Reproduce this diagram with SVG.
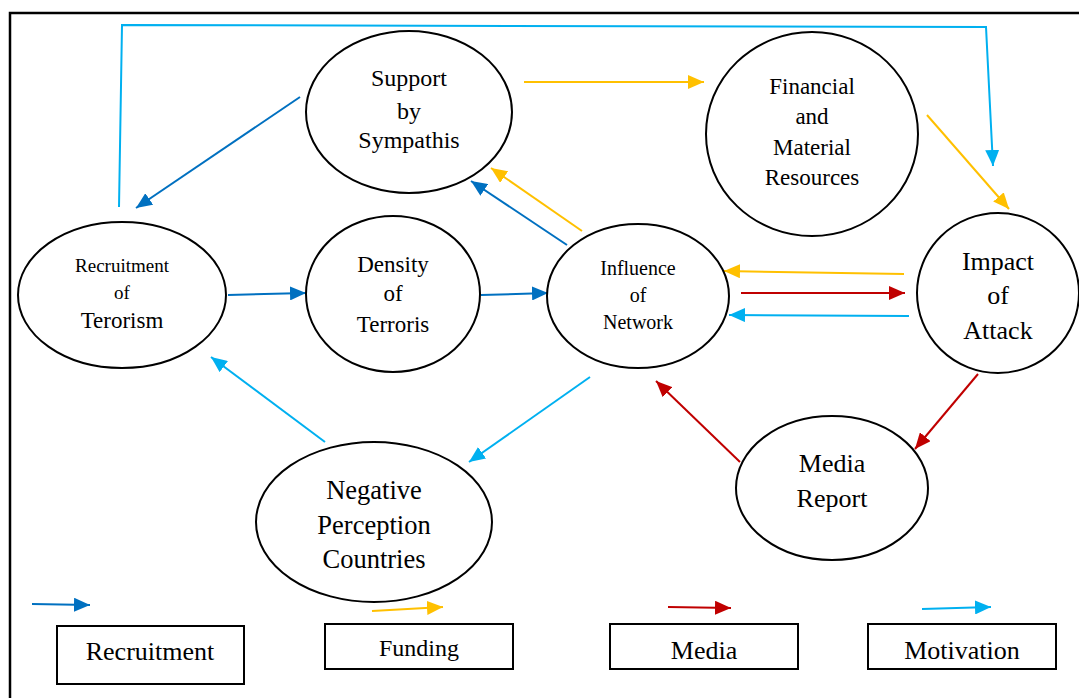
<svg xmlns="http://www.w3.org/2000/svg" width="1079" height="698" viewBox="0 0 1079 698">
<defs>
<style>
.n{fill:#fff;stroke:#000;stroke-width:2}
.t{font-family:"Liberation Serif","Times New Roman",serif;fill:#000;text-anchor:middle}
.c{fill:none;stroke-width:2}
.db{stroke:#0070C0}.ye{stroke:#FFC000}.re{stroke:#C00000}.lb{stroke:#00B0F0}
.box{fill:#fff;stroke:#000;stroke-width:2}
</style>
<marker id="adb" markerUnits="userSpaceOnUse" markerWidth="16" markerHeight="14" refX="16" refY="7" orient="auto"><path d="M0,0 L16,7 L0,14 z" fill="#0070C0"/></marker>
<marker id="aye" markerUnits="userSpaceOnUse" markerWidth="16" markerHeight="14" refX="16" refY="7" orient="auto"><path d="M0,0 L16,7 L0,14 z" fill="#FFC000"/></marker>
<marker id="are" markerUnits="userSpaceOnUse" markerWidth="16" markerHeight="14" refX="16" refY="7" orient="auto"><path d="M0,0 L16,7 L0,14 z" fill="#C00000"/></marker>
<marker id="alb" markerUnits="userSpaceOnUse" markerWidth="16" markerHeight="14" refX="16" refY="7" orient="auto"><path d="M0,0 L16,7 L0,14 z" fill="#00B0F0"/></marker>
</defs>
<rect width="1079" height="698" fill="#fff"/>
<path d="M10,698 L10,13 L1079,13" fill="none" stroke="#000" stroke-width="2.5"/>

<g id="connectors">
<path class="c lb" d="M119,207 L122,25 L986,27 L993,166" marker-end="url(#alb)"/>
<path class="c db" d="M300,97 L136,208" marker-end="url(#adb)"/>
<path class="c ye" d="M524,82 L704,82" marker-end="url(#aye)"/>
<path class="c ye" d="M927,115 L1009,209" marker-end="url(#aye)"/>
<path class="c db" d="M228,295 L306,293" marker-end="url(#adb)"/>
<path class="c db" d="M481,295 L548,293" marker-end="url(#adb)"/>
<path class="c db" d="M567,245 L471,181" marker-end="url(#adb)"/>
<path class="c ye" d="M582,231 L491,168" marker-end="url(#aye)"/>
<path class="c ye" d="M904,274 L724,271" marker-end="url(#aye)"/>
<path class="c re" d="M741,293 L905,293" marker-end="url(#are)"/>
<path class="c lb" d="M909,316 L729,315" marker-end="url(#alb)"/>
<path class="c re" d="M978,374 L915,449" marker-end="url(#are)"/>
<path class="c re" d="M740,462 L656,381" marker-end="url(#are)"/>
<path class="c lb" d="M590,377 L469,462" marker-end="url(#alb)"/>
<path class="c lb" d="M325,442 L211,357" marker-end="url(#alb)"/>
</g>

<g id="support">
<ellipse class="n" cx="409" cy="112" rx="103" ry="81"/>
<text class="t" font-size="24" x="409" y="86">Support</text>
<text class="t" font-size="24" x="409" y="119">by</text>
<text class="t" font-size="24" x="409" y="148">Sympathis</text>
</g>
<g id="financial">
<ellipse class="n" cx="812" cy="134" rx="106" ry="102"/>
<text class="t" font-size="23" x="812" y="94">Financial</text>
<text class="t" font-size="23" x="812" y="124">and</text>
<text class="t" font-size="23" x="812" y="155">Material</text>
<text class="t" font-size="23" x="812" y="185">Resources</text>
</g>
<g id="recruitment">
<ellipse class="n" cx="122" cy="295" rx="104" ry="73"/>
<text class="t" font-size="19" x="122" y="272">Recruitment</text>
<text class="t" font-size="19" x="122" y="299">of</text>
<text class="t" font-size="23" x="122" y="328">Terorism</text>
</g>
<g id="density">
<ellipse class="n" cx="393" cy="294" rx="87" ry="78"/>
<text class="t" font-size="23" x="393" y="272">Density</text>
<text class="t" font-size="23" x="393" y="301">of</text>
<text class="t" font-size="23" x="393" y="332">Terroris</text>
</g>
<g id="influence">
<ellipse class="n" cx="638" cy="296" rx="91" ry="72"/>
<text class="t" font-size="20" x="638" y="275">Influence</text>
<text class="t" font-size="20" x="638" y="302">of</text>
<text class="t" font-size="20" x="638" y="329">Network</text>
</g>
<g id="impact">
<ellipse class="n" cx="998" cy="293" rx="81" ry="80"/>
<text class="t" font-size="26" x="998" y="270">Impact</text>
<text class="t" font-size="26" x="998" y="304">of</text>
<text class="t" font-size="26" x="998" y="339">Attack</text>
</g>
<g id="negative">
<ellipse class="n" cx="374" cy="522" rx="118" ry="80"/>
<text class="t" font-size="26.5" x="374" y="499">Negative</text>
<text class="t" font-size="26.5" x="374" y="534">Perception</text>
<text class="t" font-size="26.5" x="374" y="568">Countries</text>
</g>
<g id="media-report">
<ellipse class="n" cx="832" cy="488" rx="96" ry="72"/>
<text class="t" font-size="26" x="832" y="472">Media</text>
<text class="t" font-size="26" x="832" y="507">Report</text>
</g>

<g id="legend">
<path class="c db" d="M32,604 L90,605" marker-end="url(#adb)"/>
<path class="c ye" d="M372,611 L443,607" marker-end="url(#aye)"/>
<path class="c re" d="M668,607 L731,608" marker-end="url(#are)"/>
<path class="c lb" d="M922,609 L991,607" marker-end="url(#alb)"/>
<g id="legend-recruitment"><rect class="box" x="57" y="626" width="187" height="58"/><text class="t" font-size="26" x="150" y="660">Recruitment</text></g>
<g id="legend-funding"><rect class="box" x="325" y="624" width="188" height="45"/><text class="t" font-size="24" x="419" y="656">Funding</text></g>
<g id="legend-media"><rect class="box" x="610" y="624" width="188" height="45"/><text class="t" font-size="26" x="704" y="659">Media</text></g>
<g id="legend-motivation"><rect class="box" x="868" y="624" width="188" height="45"/><text class="t" font-size="26" x="962" y="659">Motivation</text></g>
</g>
</svg>
